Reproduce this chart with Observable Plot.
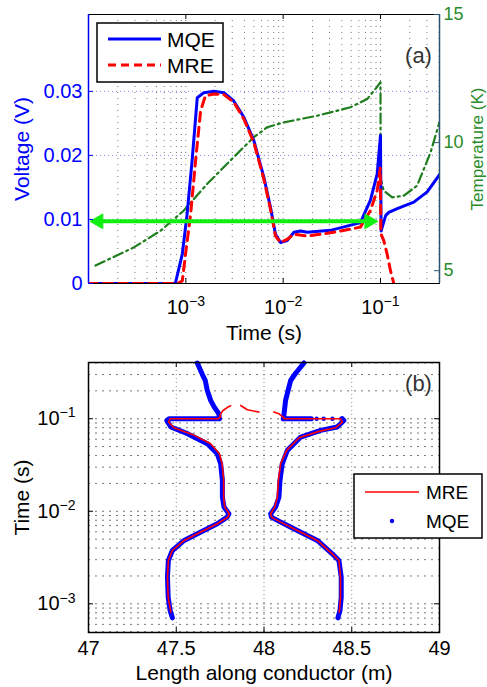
<!DOCTYPE html>
<html><head><meta charset="utf-8">
<script src="https://cdn.jsdelivr.net/npm/d3@7"></script>
<script src="https://cdn.jsdelivr.net/npm/@observablehq/plot@0.6"></script>
<style>
body{margin:0;background:#fff;}
#wrap{position:relative;width:487px;height:687px;overflow:hidden;}
#wrap svg{position:absolute;left:0;}
</style></head><body><div id="wrap"></div>
<script>
const FONT = '"Liberation Sans", Arial, Helvetica, sans-serif';
const BLUE = "#0000ff", RED = "#ff0000", GREEN = "#1e7e1e", GREENTXT = "#2a8c2a", TEAL = "#2b5572", LIME = "#11ee11";

// ---------- Panel (a) data ----------
const timeTicksA = [1e-3, 1e-2, 1e-1];
const timeTickLabelsA = ["10^-3", "10^-2", "10^-1"];
const voltTicks = [0, 0.01, 0.02, 0.03];
const voltTickLabels = ["0", "0.01", "0.02", "0.03"];
const tempTicks = [5, 10, 15];
const tempTickLabels = ["5", "10", "15"];

const mqeTime = [1e-4, 7.8e-4, 9.2e-4, 1.03e-3, 1.16e-3, 1.31e-3, 1.53e-3, 1.94e-3, 2.46e-3, 3.11e-3, 3.94e-3, 5.0e-3, 6.33e-3, 7.41e-3, 8.34e-3, 9.4e-3, 0.011, 0.0129, 0.0151, 0.0177, 0.0306, 0.0622, 0.0789, 0.0925, 0.0983, 0.1, 0.1015, 0.106, 0.113, 0.1216, 0.1486, 0.22, 0.302, 0.404];
const mqeVolt = [0, 0, 0.0046, 0.0108, 0.0192, 0.029, 0.0298, 0.030, 0.0298, 0.0285, 0.026, 0.0223, 0.0166, 0.0119, 0.0077, 0.0064, 0.0067, 0.008, 0.0082, 0.008, 0.0083, 0.0095, 0.013, 0.0171, 0.0218, 0.0231, 0.0082, 0.0092, 0.0106, 0.0111, 0.0117, 0.0127, 0.0143, 0.017];

const mreTime = [1e-4, 8.2e-4, 9.2e-4, 9.93e-4, 1.12e-3, 1.26e-3, 1.42e-3, 1.59e-3, 1.94e-3, 2.46e-3, 3.11e-3, 3.94e-3, 5.0e-3, 6.33e-3, 7.41e-3, 8.34e-3, 9.4e-3, 0.011, 0.0129, 0.0177, 0.0332, 0.0622, 0.0789, 0.0925, 0.0995, 0.101, 0.108, 0.117, 0.1267, 0.137];
const mreVolt = [0, 0, 0.0004, 0.0046, 0.0108, 0.0192, 0.027, 0.0293, 0.0296, 0.0295, 0.0283, 0.0257, 0.022, 0.0163, 0.0116, 0.0074, 0.0064, 0.0069, 0.0077, 0.0074, 0.008, 0.0088, 0.0114, 0.0145, 0.018, 0.0078, 0.0067, 0.0046, 0.002, 0];

const tempTime = [1.18e-4, 2.92e-4, 5.5e-4, 9.5e-4, 1.66e-3, 3.1e-3, 5.0e-3, 6.86e-3, 0.0102, 0.0224, 0.0492, 0.073, 0.089, 0.1, 0.1005, 0.108, 0.132, 0.174, 0.238, 0.326, 0.404];
const tempK = [5.2, 5.91, 6.56, 7.34, 8.39, 9.43, 10.21, 10.6, 10.79, 11.05, 11.38, 11.7, 12.1, 12.36, 8.6, 8.12, 7.86, 7.93, 8.32, 9.6, 10.8];

const arrowTimes = [1.05e-4, 0.0925];
const arrowVolt = 0.0097;

// ---------- Panel (b) data ----------
const lenTicks = [47, 47.5, 48, 48.5, 49];
const lenTickLabels = ["47", "47.5", "48", "48.5", "49"];
const timeTicksB = [1e-3, 1e-2, 1e-1];
const timeTickLabelsB = ["10^-3", "10^-2", "10^-1"];

const mqeLeft = [[47.478,7.06e-4],[47.465,8.47e-4],[47.454,1.18e-3],[47.450,1.94e-3],[47.455,2.94e-3],[47.478,3.77e-3],[47.545,4.84e-3],[47.640,5.96e-3],[47.734,7.33e-3],[47.790,8.65e-3],[47.800,9.4e-3],[47.772,0.0111],[47.763,0.0142],[47.763,0.0215],[47.753,0.0326],[47.734,0.0419],[47.677,0.0537],[47.564,0.0689],[47.469,0.0813],[47.446,0.0959],[47.459,0.1],[47.60,0.1],[47.745,0.1]];
const mqeLeftUpper = [[47.745,0.1],[47.743,0.113],[47.715,0.135],[47.696,0.158],[47.677,0.202],[47.665,0.26],[47.649,0.30],[47.62,0.40]];
const mqeRight = [[48.421,7.06e-4],[48.433,8.47e-4],[48.44,1.18e-3],[48.44,1.94e-3],[48.427,2.94e-3],[48.389,3.47e-3],[48.304,4.84e-3],[48.19,6.2e-3],[48.095,7.64e-3],[48.042,8.65e-3],[48.038,9.4e-3],[48.066,0.0111],[48.085,0.0142],[48.091,0.0215],[48.104,0.0326],[48.133,0.0455],[48.209,0.0634],[48.323,0.0748],[48.417,0.0813],[48.455,0.0959],[48.446,0.1]];
const mqeRightFlat = [[48.11,0.1],[48.27,0.1]];
const mqeRightUpper = [[48.11,0.1],[48.113,0.108],[48.118,0.13],[48.123,0.158],[48.142,0.22],[48.152,0.259],[48.18,0.31],[48.209,0.362],[48.228,0.40]];
const mqeSparse = [[48.30,0.1],[48.34,0.1],[48.39,0.1],[48.44,0.1]];

const mreLeft = [[47.469,8.13e-4],[47.454,1.18e-3],[47.450,1.94e-3],[47.455,2.94e-3],[47.478,3.77e-3],[47.545,4.84e-3],[47.640,5.96e-3],[47.734,7.33e-3],[47.795,8.65e-3],[47.802,9.4e-3],[47.776,0.0111],[47.770,0.0142],[47.770,0.0215],[47.761,0.0326],[47.746,0.0419],[47.696,0.0537],[47.592,0.0677],[47.488,0.0793],[47.456,0.092],[47.465,0.1],[47.735,0.1]];
const mreTopArc = [[47.735,0.1],[47.752,0.104],[47.75,0.11],[47.765,0.122],[47.79,0.132],[47.81,0.138],[NaN,NaN],[47.867,0.139],[47.905,0.125],[47.971,0.118],[NaN,NaN],[48.056,0.118],[48.085,0.113],[48.113,0.1025]];
const mreRight = [[48.113,0.1],[48.436,0.1],[48.446,0.092],[48.408,0.0799],[48.313,0.0730],[48.20,0.0623],[48.129,0.0455],[48.095,0.0326],[48.082,0.0215],[48.076,0.0142],[48.061,0.0111],[48.038,9.4e-3],[48.042,8.65e-3],[48.095,7.64e-3],[48.19,6.2e-3],[48.304,4.84e-3],[48.389,3.47e-3],[48.427,2.94e-3],[48.436,1.94e-3],[48.436,1.18e-3],[48.429,8.13e-4]];

// ---------- helpers ----------
const wrap = document.getElementById("wrap");
const V_MAX = 0.042, T_MIN = 4.5, T_MAX = 15;
const tempToVolt = T => (T - T_MIN) / (T_MAX - T_MIN) * V_MAX;
const logGrid = (lo, hi) => [1e-4, 1e-3, 1e-2, 1e-1].flatMap(d => [1,2,3,4,5,6,7,8,9].map(k => k * d)).filter(v => v >= lo && v <= hi);
const T0 = {textAnchor: "middle", lineAnchor: "middle"};

function superscripts(svg) {
  const ns = "http://www.w3.org/2000/svg";
  svg.querySelectorAll("text").forEach(t => {
    const m = (t.textContent || "").match(/^10\^(.+)$/);
    if (!m) return;
    t.textContent = "";
    const a = document.createElementNS(ns, "tspan"); a.textContent = "10";
    const b = document.createElementNS(ns, "tspan");
    b.setAttribute("dy", "-0.55em"); b.setAttribute("font-size", "0.7em");
    b.textContent = m[1].replace("-", "\u2212");
    t.appendChild(a); t.appendChild(b);
  });
}

// ---------- Panel (a) ----------
const mqeRows = mqeTime.map((t, i) => ({t, v: mqeVolt[i]}));
const mreRows = mreTime.map((t, i) => ({t, v: mreVolt[i]}));
const tempRows = tempTime.map((t, i) => ({t, T: tempK[i]}));
const arrowShaft = [{x1: arrowTimes[0], x2: arrowTimes[1], y: arrowVolt}];
const arrowHeads = [
  {t: arrowTimes[0], y: arrowVolt, rot: -90, dx: 8},
  {t: arrowTimes[1], y: arrowVolt, rot: 90, dx: -8}
];
const XA = [1e-4, 0.404];
const frameHA = 269, frameWA = 351;

const chartA = Plot.plot({
  width: 487, height: 345,
  marginLeft: 88, marginRight: 48, marginTop: 14, marginBottom: 62,
  x: {type: "log", domain: XA, axis: null},
  y: {domain: [0, V_MAX], axis: null},
  style: {fontFamily: FONT, fontSize: "20px", background: "transparent", color: "#000", overflow: "visible"},
  marks: [
    Plot.ruleX(logGrid(1.5e-4, 0.404), {stroke: "#777", strokeDasharray: "1,5", strokeWidth: 1}),
    Plot.ruleY([0.01, 0.02, 0.03], {stroke: "#8c8cff", strokeDasharray: "1,3", strokeWidth: 1}),
    Plot.line(tempRows, {x: "t", y: d => tempToVolt(d.T), stroke: GREEN, strokeWidth: 2.2, strokeDasharray: "10,4,2,4", clip: true}),
    Plot.line(mqeRows, {x: "t", y: "v", stroke: BLUE, strokeWidth: 3, clip: true}),
    Plot.line(mreRows, {x: "t", y: "v", stroke: RED, strokeWidth: 3, strokeDasharray: "9,6", clip: true}),
    Plot.arrow(arrowShaft, {x1: "x1", x2: "x2", y1: "y", y2: "y", stroke: LIME, strokeWidth: 4, headLength: 0, insetStart: 6, insetEnd: 6}),
    Plot.dot(arrowHeads.slice(0, 1), {x: "t", y: "y", symbol: "triangle", r: 5.5, rotate: -90, dx: 8, fill: LIME, stroke: LIME, strokeWidth: 1}),
    Plot.dot(arrowHeads.slice(1), {x: "t", y: "y", symbol: "triangle", r: 5.5, rotate: 90, dx: -8, fill: LIME, stroke: LIME, strokeWidth: 1}),
    Plot.frame({stroke: "#000", strokeWidth: 1}),
    Plot.ruleX([XA[0]], {stroke: BLUE, strokeWidth: 1.5}),
    Plot.ruleX([XA[1]], {stroke: TEAL, strokeWidth: 1.5}),
    // inward ticks
    Plot.tickX(timeTicksA, {x: d => d, insetTop: frameHA - 5, stroke: "#000"}),
    Plot.tickX(timeTicksA, {x: d => d, insetBottom: frameHA - 5, stroke: "#000"}),
    Plot.tickY(voltTicks, {y: d => d, insetRight: frameWA - 5, stroke: BLUE}),
    Plot.tickY(tempTicks, {y: d => tempToVolt(d), insetLeft: frameWA - 5, stroke: TEAL}),
    // tick labels
    Plot.text(timeTicksA, {...T0, x: d => d, frameAnchor: "bottom", dy: 24, text: (d, i) => timeTickLabelsA[i], fontSize: 20, fill: "#000"}),
    Plot.text(voltTicks, {y: d => d, frameAnchor: "left", dx: -6, textAnchor: "end", lineAnchor: "middle", text: (d, i) => voltTickLabels[i], fontSize: 20, fill: BLUE}),
    Plot.text(tempTicks, {y: d => tempToVolt(d), frameAnchor: "right", dx: 4, textAnchor: "start", lineAnchor: "middle", text: (d, i) => tempTickLabels[i], fontSize: 18, fill: GREENTXT}),
    // axis titles
    Plot.text(["Time (s)"], {...T0, frameAnchor: "bottom", dy: 50, fontSize: 21, fill: "#000"}),
    Plot.text(["Voltage (V)"], {...T0, frameAnchor: "left", dx: -66, rotate: -90, fontSize: 21, fill: BLUE}),
    Plot.text(["Temperature (K)"], {...T0, frameAnchor: "right", dx: 38, rotate: -90, fontSize: 17, fill: GREENTXT}),
    Plot.text(["(a)"], {...T0, frameAnchor: "top-right", dx: -21, dy: 41, fontSize: 22, fill: "#333"})
  ]
});
chartA.style.top = "0px";
superscripts(chartA);
wrap.appendChild(chartA);

// ---------- Panel (b) ----------
const toRows = (arr, s) => arr.map(([x, t]) => ({x, t, s}));
const mqeLineRows = [
  ...toRows(mqeLeft, "L"), ...toRows(mqeLeftUpper, "LU"), ...toRows(mqeRight, "R"),
  ...toRows(mqeRightFlat, "RF"), ...toRows(mqeRightUpper, "RU")
];
const mreLineRows = [...toRows(mreLeft, "L"), ...toRows(mreTopArc, "T"), ...toRows(mreRight, "R")];
const frameHB = 270, frameWB = 351;

const chartB = Plot.plot({
  width: 487, height: 347,
  marginLeft: 88, marginRight: 48, marginTop: 22, marginBottom: 55,
  x: {domain: [47, 49], axis: null},
  y: {type: "log", domain: [4.9e-4, 0.405], axis: null},
  style: {fontFamily: FONT, fontSize: "20px", background: "transparent", color: "#000", overflow: "visible"},
  marks: [
    Plot.ruleY(logGrid(5e-4, 0.4), {stroke: "#777", strokeDasharray: "2,5", strokeWidth: 1}),
    Plot.ruleX([47.5, 48, 48.5], {stroke: "#888", strokeDasharray: "1,3", strokeWidth: 1}),
    Plot.line(mqeLineRows, {x: "x", y: "t", z: "s", stroke: BLUE, strokeWidth: 5, strokeLinecap: "round", strokeLinejoin: "round"}),
    Plot.dot(toRows(mqeSparse, "S"), {x: "x", y: "t", r: 2.2, fill: BLUE, stroke: "none"}),
    Plot.line(mreLineRows, {x: "x", y: "t", z: "s", stroke: RED, strokeWidth: 1.6}),
    Plot.frame({stroke: "#000", strokeWidth: 1.5}),
    Plot.tickX([47.5, 48, 48.5], {x: d => d, insetTop: frameHB - 5, stroke: "#000"}),
    Plot.tickX([47.5, 48, 48.5], {x: d => d, insetBottom: frameHB - 5, stroke: "#000"}),
    Plot.tickY(timeTicksB, {y: d => d, insetRight: frameWB - 5, stroke: "#000"}),
    Plot.tickY(timeTicksB, {y: d => d, insetLeft: frameWB - 5, stroke: "#000"}),
    Plot.text(lenTicks, {...T0, x: d => d, frameAnchor: "bottom", dy: 16, text: (d, i) => lenTickLabels[i], fontSize: 20, fill: "#000"}),
    Plot.text(timeTicksB, {y: d => d, frameAnchor: "left", dx: -13, textAnchor: "end", lineAnchor: "middle", text: (d, i) => timeTickLabelsB[i], fontSize: 20, fill: "#000"}),
    Plot.text(["Length along conductor (m)"], {...T0, frameAnchor: "bottom", dy: 41, fontSize: 21, fill: "#000"}),
    Plot.text(["Time (s)"], {...T0, frameAnchor: "left", dx: -66, rotate: -90, fontSize: 21, fill: "#000"}),
    Plot.text(["(b)"], {...T0, frameAnchor: "top-right", dx: -21, dy: 21, fontSize: 22, fill: "#333"})
  ]
});
chartB.style.top = "340px";
superscripts(chartB);
wrap.appendChild(chartB);

// ---------- Legends ----------
const legend = d3.select(wrap).append("svg")
  .attr("width", 487).attr("height", 687)
  .style("top", "0px").style("pointer-events", "none")
  .style("font-family", FONT);

const legendA = [
  {label: "MQE", color: BLUE, dash: null},
  {label: "MRE", color: RED, dash: "8,5"}
];
legend.append("rect").attr("x", 97).attr("y", 23).attr("width", 126).attr("height", 59)
  .attr("fill", "#fff").attr("stroke", "#000").attr("stroke-width", 1.5);
legendA.forEach((d, i) => {
  const y = 39 + i * 26;
  legend.append("line").attr("x1", 108).attr("x2", 161).attr("y1", y).attr("y2", y)
    .attr("stroke", d.color).attr("stroke-width", 3).attr("stroke-dasharray", d.dash);
  legend.append("text").attr("x", 167).attr("y", y).attr("dy", "0.36em")
    .attr("font-size", 21).text(d.label);
});

const legendB = [
  {label: "MRE", kind: "line", color: RED},
  {label: "MQE", kind: "dot", color: BLUE}
];
legend.append("rect").attr("x", 354).attr("y", 474).attr("width", 128).attr("height", 64)
  .attr("fill", "#fff").attr("stroke", "#000").attr("stroke-width", 1.5);
legendB.forEach((d, i) => {
  const y = 492 + i * 29;
  if (d.kind === "line") {
    legend.append("line").attr("x1", 365).attr("x2", 419).attr("y1", y).attr("y2", y)
      .attr("stroke", d.color).attr("stroke-width", 1.6);
  } else {
    legend.append("circle").attr("cx", 392).attr("cy", y).attr("r", 2.2).attr("fill", d.color);
  }
  legend.append("text").attr("x", 426).attr("y", y).attr("dy", "0.36em")
    .attr("font-size", 19).text(d.label);
});
</script>
</body></html>
